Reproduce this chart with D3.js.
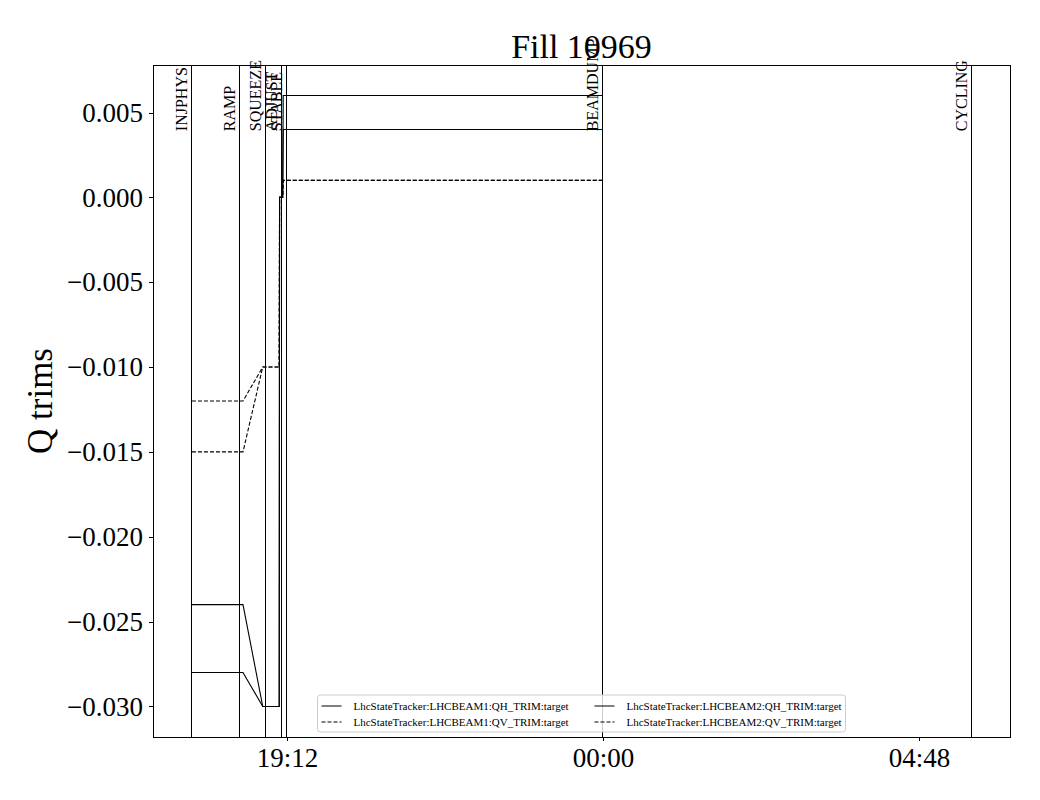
<!DOCTYPE html>
<html>
<head>
<meta charset="utf-8">
<script src="https://cdn.jsdelivr.net/npm/d3@7"></script>
<style>
  body { margin: 0; background: #fff; }
  text { font-family: "Liberation Serif", "Times New Roman", serif; fill: #000; }
</style>
</head>
<body>
<div id="wrapper"></div>
<script>
// beam mode changes
const modeNames = ["INJPHYS", "RAMP", "SQUEEZE", "ADJUST", "STABLE", "BEAMDUMP", "CYCLING"]
const modeTimes = ["2025-08-10T17:45:30", "2025-08-10T18:28:30", "2025-08-10T18:52:50",
  "2025-08-10T19:07:10", "2025-08-10T19:11:45", "2025-08-11T00:00:00", "2025-08-11T05:35:24"]

// trim setting points (shared time axis)
const trimTimes = ["2025-08-10T17:45:30", "2025-08-10T18:32:00", "2025-08-10T18:50:00",
  "2025-08-10T19:05:00", "2025-08-10T19:05:20", "2025-08-10T19:08:10",
  "2025-08-10T19:08:40", "2025-08-11T00:00:00"]
const b1QH = [-0.024, -0.024, -0.030, -0.030, 0, 0, 0.006, 0.006]
const b1QV = [-0.012, -0.012, -0.010, -0.010, 0, 0, 0.001, 0.001]
const b2QH = [-0.028, -0.028, -0.030, -0.030, 0, 0, 0.004, 0.004]
const b2QV = [-0.015, -0.015, -0.010, -0.010, 0, 0, 0.001, 0.001]

const seriesNames = ["LhcStateTracker:LHCBEAM1:QH_TRIM:target", "LhcStateTracker:LHCBEAM1:QV_TRIM:target",
  "LhcStateTracker:LHCBEAM2:QH_TRIM:target", "LhcStateTracker:LHCBEAM2:QV_TRIM:target"]
const seriesValues = [b1QH, b1QV, b2QH, b2QV]
const seriesDashed = [false, true, false, true]

const xTickTimes = ["2025-08-10T19:12:00", "2025-08-11T00:00:00", "2025-08-11T04:48:00"]
const yTickValues = [0.005, 0, -0.005, -0.010, -0.015, -0.020, -0.025, -0.030]
const title = "Fill 10969"
const yLabel = "Q trims"

function drawChart() {
  const parse = d3.isoParse

  let dimensions = {
    width: 1040,
    height: 800,
    margin: { top: 65, right: 30, bottom: 63, left: 153 },
  }
  dimensions.boundedWidth = dimensions.width - dimensions.margin.left - dimensions.margin.right
  dimensions.boundedHeight = dimensions.height - dimensions.margin.top - dimensions.margin.bottom

  const wrapper = d3.select("#wrapper")
    .append("svg")
      .attr("width", dimensions.width)
      .attr("height", dimensions.height)

  const bounds = wrapper.append("g")
    .attr("transform", `translate(${dimensions.margin.left},${dimensions.margin.top})`)

  // data extents with 5% padding like matplotlib
  const allTimes = modeTimes.concat(trimTimes).map(parse)
  const tMin = d3.min(allTimes), tMax = d3.max(allTimes)
  const tPad = (tMax - tMin) * 0.05
  const allVals = seriesValues.flat()
  const vMin = d3.min(allVals), vMax = d3.max(allVals)
  const vPad = (vMax - vMin) * 0.05

  const xScale = d3.scaleTime()
    .domain([new Date(+tMin - tPad), new Date(+tMax + tPad)])
    .range([0, dimensions.boundedWidth])
  const yScale = d3.scaleLinear()
    .domain([vMin - vPad, vMax + vPad])
    .range([dimensions.boundedHeight, 0])

  // axes
  const yAxis = bounds.append("g")
    .call(d3.axisLeft(yScale).tickValues(yTickValues).tickFormat(d3.format(".3f"))
      .tickSize(4).tickPadding(6))
  yAxis.select(".domain").remove()
  yAxis.selectAll("text").style("font-size", "27px").attr("font-family", null)
  yAxis.selectAll("line").attr("stroke", "#000").attr("shape-rendering", "crispEdges")

  const xAxis = bounds.append("g")
    .attr("transform", `translate(0,${dimensions.boundedHeight})`)
    .call(d3.axisBottom(xScale).tickValues(xTickTimes.map(parse))
      .tickFormat(d3.timeFormat("%H:%M")).tickSize(4).tickPadding(5))
  xAxis.select(".domain").remove()
  xAxis.selectAll("text").style("font-size", "27px").attr("font-family", null)
    .attr("dy", "0.78em")
  xAxis.selectAll("line").attr("stroke", "#000").attr("shape-rendering", "crispEdges")

  // mode lines and labels
  const modes = modeNames.map((name, i) => ({ name, t: parse(modeTimes[i]) }))
  bounds.selectAll(".mode-line").data(modes).join("line")
    .attr("class", "mode-line")
    .attr("x1", d => xScale(d.t)).attr("x2", d => xScale(d.t))
    .attr("y1", 0).attr("y2", dimensions.boundedHeight)
    .attr("stroke", "#000").attr("stroke-width", 1)
    .attr("shape-rendering", "crispEdges")

  // trim lines
  const lineGenerator = d3.line()
    .x(d => xScale(d.t))
    .y(d => yScale(d.v))
  seriesValues.forEach((vals, i) => {
    const pts = vals.map((v, j) => ({ t: parse(trimTimes[j]), v }))
    bounds.append("path")
      .attr("d", lineGenerator(pts))
      .attr("fill", "none")
      .attr("stroke", "#000")
      .attr("stroke-width", 1.1)
      .attr("stroke-dasharray", seriesDashed[i] ? "4,2" : null)
  })

  // frame
  bounds.append("rect")
    .attr("width", dimensions.boundedWidth)
    .attr("height", dimensions.boundedHeight)
    .attr("fill", "none").attr("stroke", "#000").attr("stroke-width", 1)
    .attr("shape-rendering", "crispEdges")

  // title
  wrapper.append("text")
    .attr("x", dimensions.margin.left + dimensions.boundedWidth / 2)
    .attr("y", 58)
    .attr("text-anchor", "middle")
    .style("font-size", "34px")
    .text(title)

  // mode labels drawn over title
  bounds.selectAll(".mode-label").data(modes).join("text")
    .attr("class", "mode-label")
    .attr("transform", d => `translate(${xScale(d.t) - 4.5},${yScale(0.0039)}) rotate(-90)`)
    .style("font-size", "16px")
    .text(d => d.name)

  // y label
  wrapper.append("text")
    .attr("transform", `translate(52,${dimensions.margin.top + dimensions.boundedHeight / 2}) rotate(-90)`)
    .attr("text-anchor", "middle")
    .style("font-size", "35px")
    .text(yLabel)

  // legend
  const legend = bounds.append("g")
    .attr("transform", `translate(${dimensions.boundedWidth / 2 - 264},${dimensions.boundedHeight - 42})`)
  legend.append("rect")
    .attr("width", 528).attr("height", 37).attr("rx", 3)
    .attr("fill", "#fff").attr("fill-opacity", 0.8)
    .attr("stroke", "#ccc").attr("stroke-width", 1)
  const items = legend.selectAll(".item").data(seriesNames).join("g")
    .attr("class", "item")
    .attr("transform", (d, i) => `translate(${i < 2 ? 4 : 277},${i % 2 === 0 ? 11 : 27})`)
  items.append("line")
    .attr("x1", 0).attr("x2", 20)
    .attr("stroke", "#000").attr("stroke-width", 1)
    .attr("stroke-dasharray", (d, i) => seriesDashed[i] ? "4,2" : null)
  items.append("text")
    .attr("x", 32).attr("dy", "0.32em")
    .style("font-size", "11px")
    .text(d => d)
}

drawChart()
</script>
</body>
</html>
